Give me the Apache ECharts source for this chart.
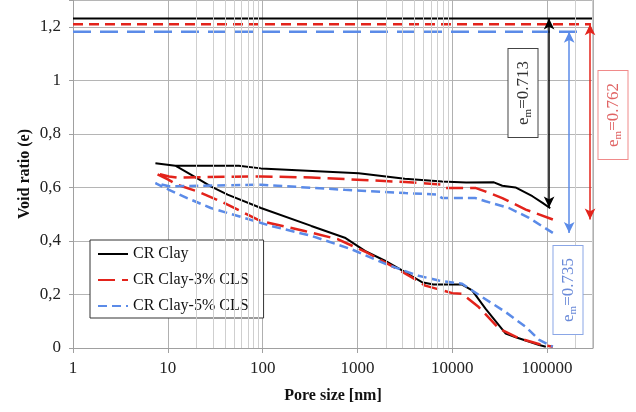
<!DOCTYPE html>
<html>
<head>
<meta charset="utf-8">
<script src="https://cdn.jsdelivr.net/npm/echarts@6/dist/echarts.min.js"></script>
<style>
  html, body { margin: 0; padding: 0; background: #fff; }
  #chart { width: 636px; height: 412px; }
</style>
</head>
<body>
<div id="chart"></div>
<script>
const SERIF = '"Liberation Serif", "DejaVu Serif", serif'

// pore size [nm] / void ratio, upper (retained) branch, left to right
const clayUpperPore = [7.4, 12, 56, 96, 1030, 3160, 7800, 14000, 27500, 33700, 46400, 70000, 89600, 108000]
const clayUpperVoid = [0.69, 0.681, 0.681, 0.671, 0.653, 0.632, 0.622, 0.618, 0.619, 0.606, 0.6, 0.567, 0.542, 0.522]
// lower (intrusion) branch, left to right
const clayLowerPore = [7.4, 12, 20.5, 28.4, 42.7, 96, 326, 736, 1200, 1950, 3180, 4790, 6330, 12700, 16200, 22400, 36600, 46800, 82600, 97000]
const clayLowerVoid = [0.69, 0.681, 0.634, 0.604, 0.573, 0.523, 0.456, 0.412, 0.363, 0.326, 0.283, 0.246, 0.237, 0.237, 0.215, 0.147, 0.054, 0.04, 0.011, 0.005]

const cls3UpperPore = [7.4, 10.3, 12.5, 96, 326, 3200, 7800, 8500, 17500, 22200, 33700, 59600, 115000]
const cls3UpperVoid = [0.653, 0.641, 0.637, 0.641, 0.637, 0.62, 0.61, 0.598, 0.598, 0.585, 0.56, 0.517, 0.48]
const cls3LowerPore = [7.4, 10, 12.5, 20.5, 36, 96, 277, 625, 1250, 2290, 3750, 5190, 6900, 10000, 12700, 19000, 31100, 50700, 89000, 115000]
const cls3LowerVoid = [0.653, 0.63, 0.61, 0.585, 0.548, 0.474, 0.437, 0.406, 0.357, 0.307, 0.264, 0.233, 0.221, 0.205, 0.202, 0.153, 0.073, 0.036, 0.011, 0.005]

const cls5UpperPore = [7.4, 10.3, 96, 736, 3200, 6900, 7800, 17600, 22400, 39600, 64500, 115000]
const cls5UpperVoid = [0.616, 0.604, 0.61, 0.591, 0.579, 0.573, 0.56, 0.56, 0.548, 0.523, 0.486, 0.43]
const cls5LowerPore = [7.4, 10.3, 16, 28.4, 64, 122, 326, 865, 2100, 4400, 7200, 12700, 20700, 36600, 59600, 82600, 115000]
const cls5LowerVoid = [0.616, 0.591, 0.56, 0.523, 0.486, 0.456, 0.419, 0.369, 0.31, 0.27, 0.252, 0.24, 0.19, 0.134, 0.079, 0.03, 0.005]

// initial void ratio e0 and the arrow (e0 -> end of retained curve)
const seriesNames = ['CR Clay', 'CR Clay-3% CLS', 'CR Clay-5% CLS']
const initialVoid = [1.231, 1.209, 1.181]
const initialEnd  = [305000, 290000, 245000]
const arrowPore   = [105000, 284000, 171000]
const arrowBottom = [0.525, 0.48, 0.43]
const emLabels    = ['0.713', '0.762', '0.735']

const minorGrid = [20, 30, 40, 50, 60, 70, 80, 90, 2000, 3000, 4000, 5000, 6000, 7000, 8000, 9000, 200000, 300000]

const xMin = 1
const xMax = 305000

const colors   = ['#000000', '#e3231b', '#5b8be8']
const dashes   = ['solid', [17, 7], [9, 5]]
const topDash  = ['solid', [10, 6], [18, 9]]
const widths   = [2, 2.5, 2.5]

function loop(upP, upV, loP, loV) {
  const upper = upP.map((p, i) => [p, upV[i]]).reverse()
  const lower = loP.map((p, i) => [p, loV[i]]).slice(1)
  return upper.concat(lower)
}

const curves = [
  loop(clayUpperPore, clayUpperVoid, clayLowerPore, clayLowerVoid),
  loop(cls3UpperPore, cls3UpperVoid, cls3LowerPore, cls3LowerVoid),
  loop(cls5UpperPore, cls5UpperVoid, cls5LowerPore, cls5LowerVoid),
]

const curveSeries = curves.map((data, i) => ({
  name: seriesNames[i],
  type: 'line',
  data,
  showSymbol: false,
  symbol: 'none',
  z: 4,
  lineStyle: { color: colors[i], width: widths[i], type: dashes[i] },
  itemStyle: { color: colors[i] },
}))

const topSeries = initialVoid.map((e0, i) => ({
  name: 'e0-' + i,
  type: 'line',
  data: [[xMin, e0], [initialEnd[i], e0]],
  showSymbol: false,
  symbol: 'none',
  z: 3,
  lineStyle: { color: colors[i], width: i === 0 ? 2 : 2.5, type: topDash[i] },
  markLine: {
    silent: true,
    symbol: ['arrow', 'arrow'],
    symbolSize: [8, 11],
    label: { show: false },
    lineStyle: { color: colors[i], width: 1.5, type: 'solid' },
    data: [[{ coord: [arrowPore[i], e0] }, { coord: [arrowPore[i], arrowBottom[i]] }]],
  },
}))

const minorSeries = {
  name: 'minor',
  type: 'line',
  data: [],
  z: 1,
  markLine: {
    silent: true,
    symbol: 'none',
    label: { show: false },
    lineStyle: { color: '#cfcfcf', width: 1, type: 'solid' },
    data: minorGrid.map(v => ({ xAxis: v })),
  },
}

function emBox(i, x, y, textColor, border) {
  return {
    type: 'text',
    x, y,
    rotation: Math.PI / 2,
    z: 10,
    style: {
      text: '{e|e}{m|m}{e|=' + emLabels[i] + '}',
      align: 'center',
      verticalAlign: 'middle',
      backgroundColor: '#fff',
      borderColor: border,
      borderWidth: 1,
      padding: [4, 12, 3, 12],
      rich: {
        e: { fontSize: 17, fontFamily: SERIF, fill: textColor, lineHeight: 22 },
        m: { fontSize: 11, fontFamily: SERIF, fill: textColor, padding: [9, 0, 0, 0] },
      },
    },
  }
}

const chart = echarts.init(document.getElementById('chart'), null, { renderer: 'canvas' })

chart.setOption({
  animation: false,
  backgroundColor: '#fff',
  grid: { left: 73, right: 43, top: -3, bottom: 64 },
  legend: {
    data: seriesNames,
    orient: 'vertical',
    left: 90,
    top: 240,
    itemWidth: 30,
    itemHeight: 14,
    itemGap: 10,
    padding: [6, 15, 4, 7],
    backgroundColor: '#fff',
    borderColor: '#333',
    borderWidth: 1,
    itemStyle: { opacity: 0 },
    textStyle: { fontFamily: SERIF, fontSize: 16, color: '#111' },
  },
  xAxis: {
    type: 'log',
    logBase: 10,
    min: xMin,
    max: xMax,
    name: 'Pore size [nm]',
    nameLocation: 'middle',
    nameGap: 40,
    nameTextStyle: { fontFamily: SERIF, fontSize: 16, fontWeight: 'bold', color: '#111' },
    axisLine: { lineStyle: { color: '#a0a0a0' } },
    axisTick: { length: 5, lineStyle: { color: '#a0a0a0' } },
    axisLabel: {
      fontFamily: SERIF, fontSize: 17, color: '#222', margin: 12,
      showMaxLabel: false,
      formatter: v => (v > 100001 ? '' : String(Math.round(v))),
    },
    splitLine: { show: true, lineStyle: { color: '#b0b0b0' } },
  },
  yAxis: {
    type: 'value',
    min: 0,
    max: 1.3,
    interval: 0.2,
    name: 'Void ratio (e)',
    nameLocation: 'middle',
    nameGap: 40,
    nameMoveOverlap: false,
    nameTextStyle: { fontFamily: SERIF, fontSize: 16, fontWeight: 'bold', color: '#111' },
    axisLine: { show: true, lineStyle: { color: '#a0a0a0' } },
    axisTick: { show: true, length: 4, lineStyle: { color: '#a0a0a0' } },
    axisLabel: {
      fontFamily: SERIF, fontSize: 17, color: '#222', margin: 12,
      formatter: v => {
        const k = v / 0.2
        if (Math.abs(k - Math.round(k)) > 1e-6) return ''
        return String(+v.toFixed(1)).replace('.', ',')
      },
    },
    splitLine: { show: true, lineStyle: { color: '#b5b5b5' } },
  },
  graphic: [
    emBox(0, 523, 93, '#333', '#444'),
    emBox(1, 613, 115, '#e06464', '#f08a8a'),
    emBox(2, 568, 290, '#6a8ad8', '#8aa6e6'),
  ],
  series: [minorSeries, ...topSeries, ...curveSeries],
})
</script>
</body>
</html>
